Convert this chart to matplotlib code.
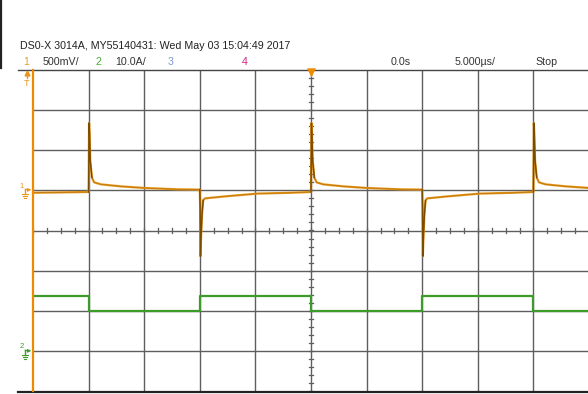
import matplotlib
matplotlib.use("Agg")
import matplotlib.pyplot as plt
from matplotlib.lines import Line2D
import numpy as np

# --- Scope settings ---------------------------------------------------------
US_PER_DIV = 5.0          # time base, us/div
CH1_V_PER_DIV = 0.5       # channel 1, V/div
CH1_GND_DIV = 1.0         # channel 1 ground marker, divisions from centre
CH2_A_PER_DIV = 10.0      # channel 2, A/div
CH2_GND_DIV = -3.0        # channel 2 ground marker, divisions from centre

# --- Channel 1: switching node voltage (V) ----------------------------------
CH1_RISE_T = [-20.0, 0.0, 20.0]      # rising edges, us
CH1_FALL_T = [-10.0, 10.0]           # falling edges, us
CH1_START_V = -0.03                  # level before the first edge
RISE_DT = [0.0, 0.02, 0.04, 0.08, 0.15, 0.3, 0.5, 1.1, 2.9, 5.0, 8.0, 9.95]
RISE_V = [-0.02, 0.35, 0.84, 0.72, 0.37, 0.16, 0.10, 0.075, 0.05, 0.03,
          0.013, 0.01]
FALL_DT = [0.0, 0.03, 0.06, 0.12, 0.2, 0.3, 0.45, 2.25, 5.2, 8.2, 9.95]
FALL_V = [0.01, -0.2, -0.82, -0.55, -0.3, -0.125, -0.1, -0.075, -0.04,
          -0.03, -0.02]

# --- Channel 2: inductor current (A) -----------------------------------------
CH2_EDGES_T = [-20.0, -10.0, 0.0, 10.0, 20.0]
CH2_HIGH_A = 13.8
CH2_LOW_A = 9.9

W, H = 588, 394
GRID_L, GRID_T, GRID_B = 33, 70, 391
DIV_PX = 55.6

ORANGE = "#e8961a"
BROWN = "#7a4c00"
GREEN = "#3d9b2a"
GRID = "#5e5e5e"

plt.rcParams["font.family"] = ["Liberation Sans", "DejaVu Sans"]


def px(x, y):
    """Pixel position -> figure fraction."""
    return x / W, 1 - y / H


def fig_line(xs, ys, **kw):
    fig.add_artist(Line2D([x / W for x in xs], [1 - y / H for y in ys], **kw))


def ch1_trace():
    t, v = [-25.0], [CH1_START_V]
    edges = [(e, RISE_DT, RISE_V) for e in CH1_RISE_T]
    edges += [(e, FALL_DT, FALL_V) for e in CH1_FALL_T]
    for e, dts, vs in sorted(edges, key=lambda x: x[0]):
        t.extend(e + d for d in dts)
        v.extend(vs)
    t = np.array(t)
    return t, np.array(v) / CH1_V_PER_DIV + CH1_GND_DIV


def ch2_trace():
    t = [-25.0] + CH2_EDGES_T + [25.0]
    levels = [CH2_HIGH_A]
    for _ in CH2_EDGES_T:
        levels.append(CH2_LOW_A if levels[-1] == CH2_HIGH_A else CH2_HIGH_A)
    levels.append(levels[-1])
    return np.array(t), np.array(levels) / CH2_A_PER_DIV + CH2_GND_DIV


def ground_marker(label, y, color):
    """Channel ground reference: number, arrow and ground symbol."""
    fig.text(*px(22, y - 3), label, color=color, fontsize=5.5, ha="center",
             va="center")
    fig_line([25, 29], [y, y], color=color, lw=1)
    fig.text(*px(29.5, y), "\u25B8", color=color, fontsize=6, ha="center",
             va="center", family="DejaVu Sans")
    fig_line([25, 25], [y, y + 5], color=color, lw=1)
    for dy, hw in ((5, 3), (7, 2), (9, 1)):
        fig_line([25 - hw, 25 + hw], [y + dy, y + dy], color=color, lw=0.8)


fig = plt.figure(figsize=(W / 100, H / 100), dpi=100)
x0, y1 = px(GRID_L, GRID_T)
x1, y0 = px(GRID_L + 10 * DIV_PX, GRID_B)
ax = fig.add_axes([x0, y0, x1 - x0, y1 - y0])
ax.set_xlim(-5 * US_PER_DIV, 5 * US_PER_DIV)
ax.set_ylim(-4, 4)
ax.axis("off")

# graticule
for i in range(-4, 5):
    ax.axvline(i * US_PER_DIV, color=GRID, lw=1, zorder=1)
for j in range(-3, 4):
    ax.axhline(j, color=GRID, lw=1, zorder=1)
for k in np.arange(-5, 5.01, 0.25):
    ax.plot([k * US_PER_DIV] * 2, [-0.06, 0.06], color=GRID, lw=0.9, zorder=1)
for k in np.arange(-4, 4.01, 0.2):
    ax.plot([-0.2, 0.2], [k, k], color=GRID, lw=0.9, zorder=1)

# traces
t2, y2 = ch2_trace()
ax.plot(t2, y2, color=GREEN, lw=1.6, drawstyle="steps-post", zorder=3)
t1, y1v = ch1_trace()
ax.plot(t1, y1v, color=ORANGE, lw=1.6, zorder=4)
ax.plot(t1, y1v, color=BROWN, lw=0.5, alpha=0.45, zorder=5)
for e in CH1_RISE_T + CH1_FALL_T:
    m = (t1 >= e) & (t1 <= e + 0.35)
    ax.plot(t1[m], y1v[m], color=BROWN, lw=1.0, zorder=5)

# frame lines and left channel bar
fig_line([18, W], [GRID_T, GRID_T], color="#444444", lw=1)
fig_line([18, W], [392, 392], color="#222222", lw=1.6)
fig_line([0.8, 0.8], [0, 68], color="#222222", lw=1.6)
fig_line([GRID_L, GRID_L], [GRID_T, GRID_B], color="#f08a00", lw=1.6)

# trigger position marker
fig.text(*px(GRID_L + 5 * DIV_PX, 73), "\u25BC", color="#f08a00", fontsize=8.5,
         ha="center", va="center", family="DejaVu Sans")
# trigger level marker: up arrow above a "T"
fig_line([27, 27], [73, 78], color=ORANGE, lw=1)
fig_line([27], [73], color=ORANGE, marker="^", markersize=3.5, lw=0)
fig.text(*px(27, 84), "T", color=ORANGE, fontsize=6.5, ha="center", va="center")
ground_marker("1", 189, ORANGE)
ground_marker("2", 350, GREEN)

# header
fs = 7.7
fig.text(*px(20, 49), "DS0-X 3014A, MY55140431: Wed May 03 15:04:49 2017",
         fontsize=fs, color="#222222", va="baseline")
row = [(23, "1", "#e8a020"), (43, "500mV/", "#333333"), (95, "2", "#45b030"),
       (115, "10.0A/", "#333333"), (168, "3", "#7d9ad2"), (242, "4", "#d0207f"),
       (391, "0.0s", "#333333"), (455, "5.000\u00b5s/", "#333333"),
       (535, "Stop", "#333333")]
for x, s, c in row:
    fig.text(*px(x, 65), s, fontsize=fs, color=c, va="baseline")

fig.savefig("out.png", dpi=100)
